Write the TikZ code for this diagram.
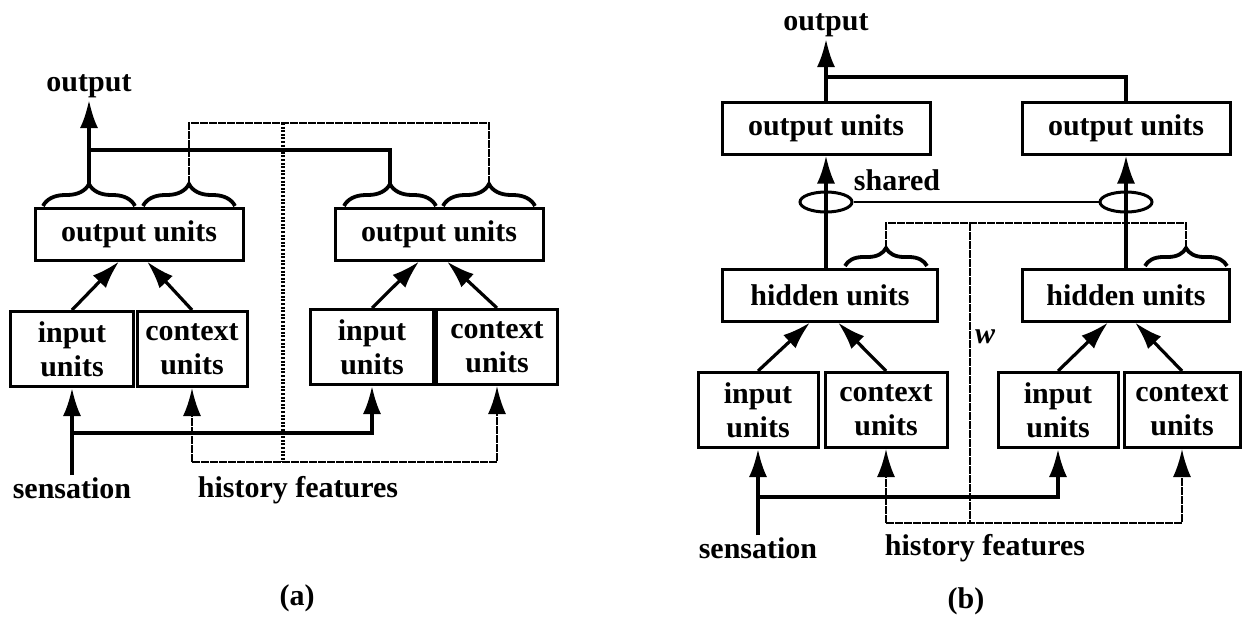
\documentclass[tikz,border=0pt]{standalone}
\usepackage{fontspec}
\setmainfont{Liberation Serif}
\usetikzlibrary{arrows.meta, calc, positioning, shapes.geometric, decorations.pathreplacing}

\begin{document}
\begin{tikzpicture}[
    x=0.5pt, y=-0.5pt,
    every node/.style={font=\fontsize{15}{17}\selectfont\bfseries, inner sep=1pt},
    unitbox/.style={draw, line width=1.5pt, minimum height=37.5pt, align=center},
    widebox/.style={unitbox, minimum width=104pt, minimum height=26pt},
    link/.style={line width=1.6pt},
    arrowhead/.style={-{Latex[length=14pt,width=9pt]}},
    arrow/.style={link, arrowhead},
    histline/.style={line width=1.3pt, dash pattern=on 4pt off 0.5pt},
    thinline/.style={line width=1.2pt},
    divider/.style={line width=1.6pt, dash pattern=on 1pt off 0.8pt},
    ubrace/.style={decorate, decoration={brace, amplitude=#1}, line width=1.9pt},
    sharering/.style={draw, ellipse, line width=1.5pt, minimum width=26pt, minimum height=10pt, inner sep=0pt}
]
\useasboundingbox (0,0) rectangle (1243,622);

% (a) two copies of the simple recurrent net
\node[widebox] (outA1) at (139,234) {output units};
\node[widebox] (outA2) at (439,234) {output units};
\node[unitbox, minimum width=61.5pt] (inA1) at (72,349) {input\\units};
\node[unitbox, minimum width=55pt] (ctxA1) at (192,349) {context\\units};
\node[unitbox, minimum width=61.5pt] (inA2) at (372,347) {input\\units};
\node[unitbox, minimum width=60.5pt] (ctxA2) at (497,347) {context\\units};

\node (outlblA) at (89,86) {output};
\node (senA) at (72,488) {sensation};
\node (hisA) at (298,490) {history features};
\node (capA) at (297,598) {(a)};

\foreach \l/\x in {A1/89, A2/189, A3/390, A4/489} {
    \draw[ubrace=11pt] (\x-46,206) -- (\x+46,206);
    \coordinate (t\l) at (\x,184);
}
\coordinate (jA) at (89,150);
\coordinate (hA) at (189,123);
\coordinate (dA1) at (283,123);
\coordinate (dA2) at (283,462);
\coordinate (sA) at (72,433);

\draw[arrow] (tA1) -- (outlblA.south);
\draw[link] (jA) -| (tA3);
\draw[histline] (tA2) -- (hA) -| (tA4);
\draw[divider] (dA1) -- (dA2);

\draw[arrow] (inA1.north) -- ([xshift=-10pt]outA1.south);
\draw[arrow] (ctxA1.north) -- ([xshift=4pt]outA1.south);
\draw[arrow] (inA2.north) -- ([xshift=-10pt]outA2.south);
\draw[arrow] (ctxA2.north) -- ([xshift=4pt]outA2.south);

\draw[arrow] (senA.north) -- (senA.north |- inA1.south);
\draw[arrow] (sA) -| (inA2.south);
\draw[histline, arrowhead] (ctxA1.south |- dA2) -- (ctxA1.south);
\draw[histline, arrowhead] (ctxA1.south |- dA2) -| (ctxA2.south);

% (b) two copies with shared weights and a hidden layer
\node[widebox] (outB1) at (826,128) {output units};
\node[widebox] (outB2) at (1126,128) {output units};
\node[unitbox, minimum width=107.5pt, minimum height=26pt] (hidB1) at (830,295) {hidden units};
\node[unitbox, minimum width=103.5pt, minimum height=26pt] (hidB2) at (1126,295) {hidden units};
\node[unitbox, minimum width=60pt] (inB1) at (758,410) {input\\units};
\node[unitbox, minimum width=61pt] (ctxB1) at (886,410) {context\\units};
\node[unitbox, minimum width=60pt] (inB2) at (1058,410) {input\\units};
\node[unitbox, minimum width=58pt] (ctxB2) at (1182,410) {context\\units};

\node[sharering] (shB1) at (826,202) {};
\node[sharering] (shB2) at (1126,202) {};

\node (outlblB) at (826,25) {output};
\node (shlbl) at (897,180) {shared};
\node (wlbl) at (985,337) {\itshape w};
\node (senB) at (758,548) {sensation};
\node (hisB) at (985,548) {history features};
\node (capB) at (966,601) {(b)};

\foreach \l/\x in {B1/886, B2/1186} {
    \draw[ubrace=9pt] (\x-41,266) -- (\x+41,266);
    \coordinate (t\l) at (\x,248);
}
\coordinate (jB) at (826,77);
\coordinate (wB) at (886,223);
\coordinate (wtop) at (970,223);
\coordinate (wbot) at (970,523);
\coordinate (sB) at (758,497);

\draw[arrow] (outB1.north) -- (outlblB.south);
\draw[link] (jB) -| (outB2.north);
\draw[arrow] (outB1.south |- hidB1.north) -- (outB1.south);
\draw[arrow] (outB2.south |- hidB2.north) -- (outB2.south);
\draw[thinline] (shB1.east) -- (shB2.west);
\draw[histline] (tB1) -- (wB) -| (tB2);
\draw[histline] (wtop) -- (wbot);

\draw[arrow] (inB1.north) -- ([xshift=-10pt]hidB1.south);
\draw[arrow] (ctxB1.north) -- ([xshift=4pt]hidB1.south);
\draw[arrow] (inB2.north) -- ([xshift=-9pt]hidB2.south);
\draw[arrow] (ctxB2.north) -- ([xshift=4.5pt]hidB2.south);

\draw[arrow] (senB.north) -- (senB.north |- inB1.south);
\draw[arrow] (sB) -| (inB2.south);
\draw[histline, arrowhead] (ctxB1.south |- wbot) -- (ctxB1.south);
\draw[histline, arrowhead] (ctxB1.south |- wbot) -| (ctxB2.south);

\end{tikzpicture}
\end{document}
